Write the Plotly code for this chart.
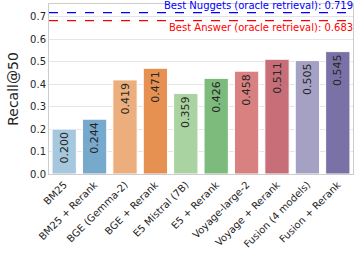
import plotly.graph_objects as go

categories = ["BM25", "BM25 + Rerank", "BGE (Gemma-2)", "BGE + Rerank", "E5 Mistral (7B)",
              "E5 + Rerank", "Voyage-large-2", "Voyage + Rerank", "Fusion (4 models)", "Fusion + Rerank"]
values = [0.200, 0.244, 0.419, 0.471, 0.359, 0.426, 0.458, 0.511, 0.505, 0.545]
colors = ["#a6c8de", "#76a9cc", "#ecae7c", "#e69052", "#a9d3a1",
          "#7dbb7d", "#d98080", "#c76e78", "#a5a1c4", "#7a72a6"]
best_nuggets = 0.719
best_answer = 0.683
yticks = [0.0, 0.1, 0.2, 0.3, 0.4, 0.5, 0.6, 0.7]

fig = go.Figure()
fig.add_trace(go.Bar(
    x=categories, y=values,
    marker=dict(color=colors, line=dict(color="white", width=1)),
    text=[f"{v:.3f}" for v in values],
    textposition="inside", insidetextanchor="end", textangle=-90,
    textfont=dict(family="DejaVu Sans", size=11, color="#262626"),
    cliponaxis=False,
))
fig.add_hline(y=best_nuggets, line=dict(color="blue", dash="dash", width=1.2))
fig.add_hline(y=best_answer, line=dict(color="red", dash="dash", width=1.2))
fig.add_annotation(x=1, xref="paper", y=best_nuggets, yref="y", xanchor="right", yanchor="bottom",
                   text=f"Best Nuggets (oracle retrieval): {best_nuggets:.3f}", showarrow=False,
                   font=dict(family="DejaVu Sans", size=10, color="blue"), yshift=0, xshift=2)
fig.add_annotation(x=1, xref="paper", y=best_answer, yref="y", xanchor="right", yanchor="top",
                   text=f"Best Answer (oracle retrieval): {best_answer:.3f}", showarrow=False,
                   font=dict(family="DejaVu Sans", size=10, color="red"), yshift=1, xshift=2)

fig.update_layout(
    width=364, height=256,
    margin=dict(l=49, r=11, t=4, b=82),
    paper_bgcolor="white", plot_bgcolor="white",
    showlegend=False, bargap=0.2,
    font=dict(family="DejaVu Sans", size=10, color="#262626"),
    xaxis=dict(tickangle=-45, showgrid=False, showline=True, linecolor="#cccccc", mirror=True,
               ticks="", tickfont=dict(size=10)),
    yaxis=dict(range=[0, 0.757], tickvals=yticks, tickformat=".1f", showgrid=True, gridcolor="#e5e5e5",
               showline=True, linecolor="#cccccc", mirror=True, zeroline=False, ticks="",
               title=dict(text="Recall@50", font=dict(size=14), standoff=8), tickfont=dict(size=10)),
)
fig.write_html("out.html", config={"displayModeBar": False},
               post_script="document.body.style.margin='0';")
